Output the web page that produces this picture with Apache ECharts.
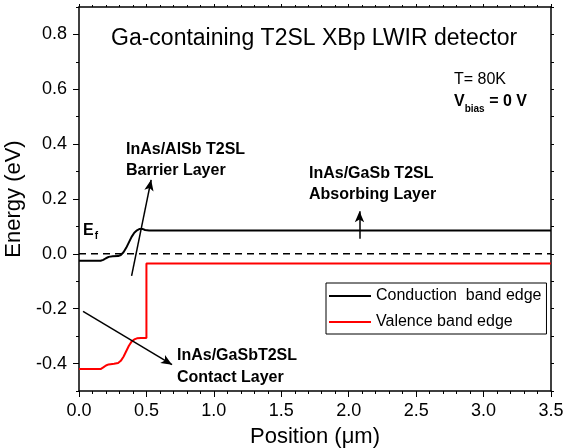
<!DOCTYPE html>
<html>
<head>
<meta charset="utf-8">
<script src="https://cdn.jsdelivr.net/npm/echarts@6/dist/echarts.min.js"></script>
<style>
  html, body { margin: 0; padding: 0; background: #fff; }
  #chart { width: 563px; height: 448px; }
</style>
</head>
<body>
<div id="chart"></div>
<script>
// band edges: [position (um), energy (eV)]
const conductionBand = [
  [0, -0.025], [0.16, -0.025], [0.18, -0.022], [0.2, -0.016], [0.22, -0.011],
  [0.25, -0.009], [0.29, -0.008], [0.31, -0.004], [0.33, 0.006], [0.35, 0.022],
  [0.37, 0.042], [0.39, 0.062], [0.41, 0.077], [0.43, 0.086], [0.45, 0.091],
  [0.47, 0.091], [0.49, 0.087], [0.52, 0.085], [3.5, 0.085]
]
const valenceBand = [
  [0, -0.42], [0.16, -0.42], [0.18, -0.414], [0.2, -0.407], [0.22, -0.403],
  [0.26, -0.401], [0.29, -0.398], [0.31, -0.39], [0.33, -0.375], [0.35, -0.355],
  [0.37, -0.335], [0.39, -0.32], [0.41, -0.312], [0.43, -0.308], [0.46, -0.307],
  [0.5, -0.307], [0.5, -0.035], [3.5, -0.035]
]
const fermiLevel = [[0, 0], [3.5, 0]]

// annotation arrows: [from, to]
const arrowBarrier = [[0.39, -0.08], [0.535, 0.27]]
const arrowAbsorber = [[2.08, 0.055], [2.08, 0.155]]
const arrowContact = [[0.03, -0.21], [0.69, -0.404]]

const yMajorTicks = [-0.4, -0.2, 0.0, 0.2, 0.4, 0.6, 0.8]

const font = 'Liberation Sans, Arial, sans-serif'
const chart = echarts.init(document.getElementById('chart'))

function arrow(a) {
  return [{ coord: a[0] }, { coord: a[1] }]
}

const option = {
  animation: false,
  textStyle: { fontFamily: font },
  grid: { left: 79, right: 12, top: 7, bottom: 57, outerBoundsMode: 'none', containLabel: false },
  legend: {
    orient: 'vertical',
    left: 326,
    top: 283,
    data: ['Conduction  band edge', 'Valence band edge'],
    icon: 'rect',
    borderColor: '#000',
    borderWidth: 1,
    borderRadius: 0,
    padding: [5, 5, 4, 3],
    itemWidth: 42,
    itemHeight: 2,
    itemGap: 10,
    textStyle: { fontSize: 16, color: '#000', fontFamily: font }
  },
  xAxis: [
    {
      type: 'value', position: 'bottom', min: 0, max: 3.5, interval: 0.5,
      name: 'Position (μm)', nameLocation: 'middle', nameGap: 35,
      nameTextStyle: { fontSize: 22, color: '#000', fontFamily: font },
      axisLine: { show: true, onZero: false, lineStyle: { color: '#000', width: 1.5 } },
      axisTick: { show: true, inside: false, length: 6, lineStyle: { color: '#000' } },
      minorTick: { show: true, splitNumber: 5, length: 3, lineStyle: { color: '#000' } },
      axisLabel: { fontSize: 18, color: '#000', margin: 11, formatter: v => v.toFixed(1) },
      splitLine: { show: false }
    },
    {
      type: 'value', position: 'top', min: 0, max: 3.5, interval: 0.5,
      axisLine: { show: true, onZero: false, lineStyle: { color: '#000', width: 1.5 } },
      axisTick: { show: true, length: 3, lineStyle: { color: '#000' } },
      minorTick: { show: true, splitNumber: 5, length: 2, lineStyle: { color: '#000' } },
      axisLabel: { show: false },
      splitLine: { show: false }
    }
  ],
  yAxis: [
    {
      type: 'value', position: 'left', min: -0.5, max: 0.9,
      name: 'Energy (eV)', nameLocation: 'middle', nameGap: 49,
      nameTextStyle: { fontSize: 22, color: '#000', fontFamily: font },
      axisLine: { show: true, onZero: false, lineStyle: { color: '#000', width: 1.5 } },
      axisTick: { show: true, length: 6, customValues: yMajorTicks, lineStyle: { color: '#000' } },
      axisLabel: { fontSize: 18, color: '#000', margin: 12, customValues: yMajorTicks, formatter: v => v.toFixed(1) },
      splitLine: { show: false }
    },
    {
      type: 'value', position: 'left', min: -0.5, max: 0.9, interval: 0.1,
      axisLine: { show: false },
      axisTick: { show: true, length: 3, lineStyle: { color: '#000' } },
      axisLabel: { show: false },
      splitLine: { show: false }
    },
    {
      type: 'value', position: 'right', min: -0.5, max: 0.9, interval: 0.1,
      axisLine: { show: true, onZero: false, lineStyle: { color: '#000', width: 1.5 } },
      axisTick: { show: true, length: 3, lineStyle: { color: '#000' } },
      axisLabel: { show: false },
      splitLine: { show: false }
    }
  ],
  series: [
    {
      name: 'Fermi level', type: 'line', data: fermiLevel, symbol: 'none',
      lineStyle: { color: '#000', width: 1.5, type: [7, 5] }, z: 1
    },
    {
      name: 'Conduction  band edge', type: 'line', data: conductionBand, symbol: 'none',
      lineStyle: { color: '#000', width: 2 }, itemStyle: { color: '#000' },
      markLine: {
        silent: true, animation: false,
        symbol: ['none', 'arrow'], symbolSize: [7, 11],
        label: { show: false },
        lineStyle: { color: '#000', width: 1.5, type: 'solid' },
        data: [arrow(arrowBarrier), arrow(arrowAbsorber), arrow(arrowContact)]
      }
    },
    {
      name: 'Valence band edge', type: 'line', data: valenceBand, symbol: 'none',
      lineStyle: { color: '#ff0000', width: 2 }, itemStyle: { color: '#ff0000' }
    }
  ],
  graphic: [
    { type: 'text', left: 111, top: 27,
      style: { text: 'Ga-containing T2SL XBp LWIR detector', font: '23px ' + font, fill: '#000' } },
    { type: 'text', left: 454, top: 72,
      style: { text: 'T= 80K', font: '16px ' + font, fill: '#000' } },
    { type: 'text', left: 454, top: 94,
      style: {
        text: '{b|V}{s|bias}{b| = 0 V}',
        rich: {
          b: { font: 'bold 16px ' + font, fill: '#000', verticalAlign: 'top' },
          s: { font: 'bold 10px ' + font, fill: '#000', padding: [10, 0, 0, 0] }
        }
      } },
    { type: 'text', left: 126, top: 139,
      style: { text: 'InAs/AlSb T2SL\nBarrier Layer', font: 'bold 16px ' + font, lineHeight: 21, fill: '#000' } },
    { type: 'text', left: 309, top: 163,
      style: { text: 'InAs/GaSb T2SL\nAbsorbing Layer', font: 'bold 16px ' + font, lineHeight: 21, fill: '#000' } },
    { type: 'text', left: 177, top: 345,
      style: { text: 'InAs/GaSbT2SL\nContact Layer', font: 'bold 16px ' + font, lineHeight: 22, fill: '#000' } },
    { type: 'text', left: 83, top: 223,
      style: {
        text: '{b|E}{s|f}',
        rich: {
          b: { font: 'bold 16px ' + font, fill: '#000' },
          s: { font: 'bold 10px ' + font, fill: '#000', padding: [10, 0, 0, 1] }
        }
      } }
  ]
}

chart.setOption(option)
</script>
</body>
</html>
